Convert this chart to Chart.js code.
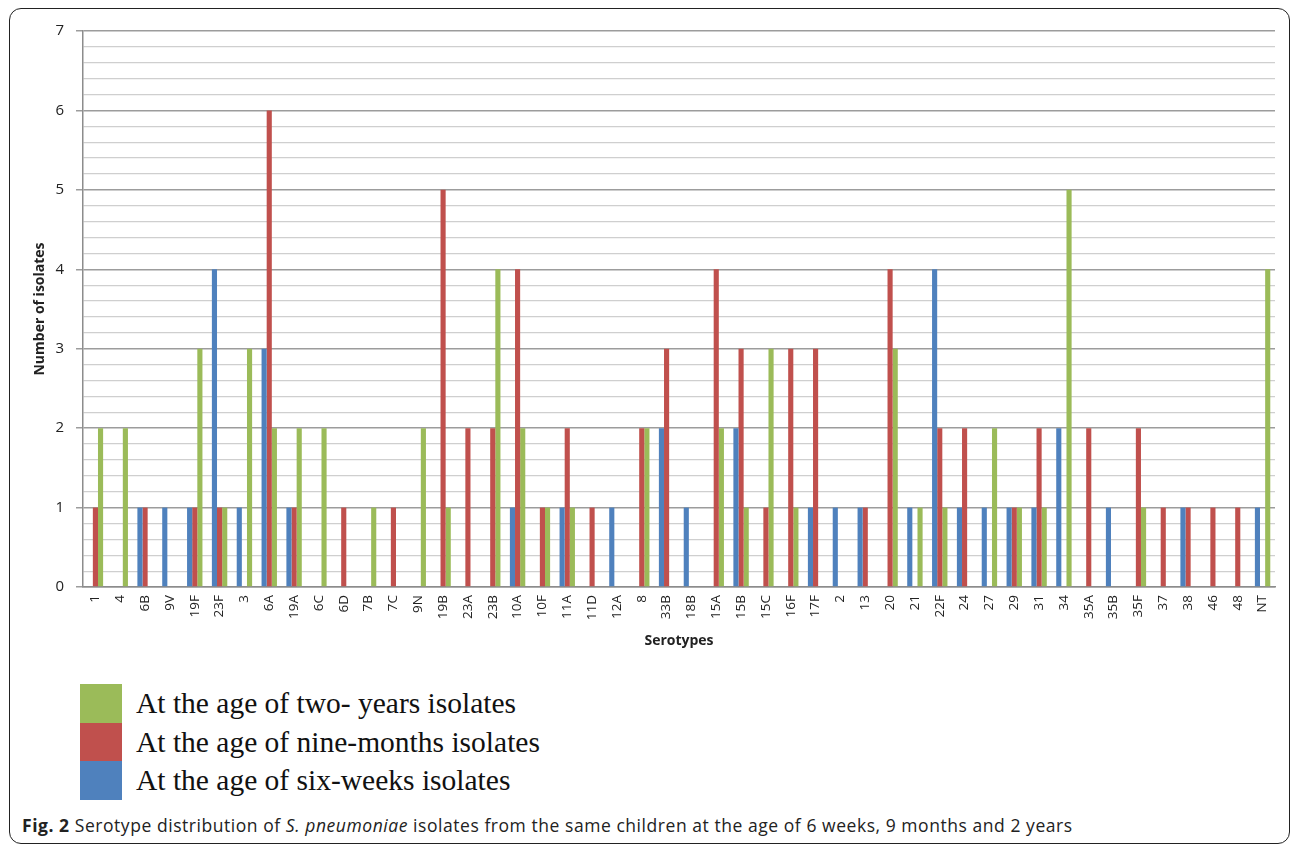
<!DOCTYPE html>
<html>
<head>
<meta charset="utf-8">
<script src="https://cdn.jsdelivr.net/npm/chart.js@4.4.0/dist/chart.umd.min.js"></script>
<style>
  html, body { margin:0; padding:0; background:#fff; width:1292px; height:845px; overflow:hidden; }
  #frame { position:absolute; left:9px; top:8px; width:1279px; height:834px; border:1.5px solid #222; border-radius:12px; }
  #wrap { position:absolute; left:0; top:0; width:1292px; height:660px; }
  #legend { position:absolute; left:80px; top:684px; font-family:"Liberation Serif","DejaVu Serif",serif; font-size:29.5px; color:#111; }
  .li { display:flex; align-items:center; height:38.7px; }
  .sw { width:42px; height:38.7px; margin-right:14px; }
  #caption { position:absolute; left:22px; top:813px; font-family:"Open Sans","Noto Sans",sans-serif; font-size:17.5px; letter-spacing:0.55px; color:#222; white-space:nowrap; }
</style>
</head>
<body>
<div id="frame"></div>
<div id="wrap"><canvas id="c" width="1292" height="660"></canvas></div>
<div id="legend"></div>
<div id="caption"><b>Fig. 2</b> Serotype distribution of <i>S. pneumoniae</i> isolates from the same children at the age of 6 weeks, 9 months and 2 years</div>
<script>
const categories = ["1","4","6B","9V","19F","23F","3","6A","19A","6C","6D","7B","7C","9N","19B","23A","23B","10A","10F","11A","11D","12A","8","33B","18B","15A","15B","15C","16F","17F","2","13","20","21","22F","24","27","29","31","34","35A","35B","35F","37","38","46","48","NT"];
const sixWeeks   = [0,0,1,1,1,4,1,3,1,0,0,0,0,0,0,0,0,1,0,1,0,1,0,2,1,0,2,0,0,1,1,1,0,1,4,1,1,1,1,2,0,1,0,0,1,0,0,1];
const nineMonths = [1,0,1,0,1,1,0,6,1,0,1,0,1,0,5,2,2,4,1,2,1,0,2,3,0,4,3,1,3,3,0,1,4,0,2,2,0,1,2,0,2,0,2,1,1,1,1,0];
const twoYears   = [2,2,0,0,3,1,3,2,2,2,0,1,0,2,1,0,4,2,1,1,0,0,2,0,0,2,1,3,1,0,0,0,3,1,1,0,2,1,1,5,0,0,1,0,0,0,0,4];
const seriesLabels = ["At the age of six-weeks isolates","At the age of nine-months isolates","At the age of two- years isolates"];
const seriesColors = ["#4f81bd","#c0504d","#9bbb59"];
const yTicks = [0,1,2,3,4,5,6,7];

const datasets = [sixWeeks, nineMonths, twoYears].map((d,i)=>({
  label: seriesLabels[i], data: d, backgroundColor: seriesColors[i], borderWidth:0,
  barPercentage: 1.0, categoryPercentage: 0.62
}));

const isInt = v => Math.abs(v - Math.round(v)) < 1e-6;
const sans = '"Open Sans","Noto Sans",sans-serif';

new Chart(document.getElementById('c'), {
  type: 'bar',
  data: { labels: categories, datasets },
  options: {
    responsive: false, animation: false,
    layout: { padding: { left: 22, right: 17, top: 31, bottom: 11 } },
    plugins: { legend: { display:false }, tooltip: { enabled:false } },
    scales: {
      x: {
        grid: { display:false, drawTicks:false },
        border: { color:'#8c8c8c', width:1.5 },
        ticks: { minRotation:90, maxRotation:90, autoSkip:false, color:'#222', padding:8,
                 font: { family:sans, size:13.5 } },
        title: { display:true, text:'Serotypes', color:'#222', padding:{top:0,bottom:0},
                 font: { family:sans, size:14, weight:'bold' } },
        afterFit: s => { s.height = 62; }
      },
      y: {
        min: 0, max: 7,
        afterBuildTicks: s => {
          const t = [];
          for (let i = 0; i <= 35; i++) t.push({ value: i / 5 });
          s.ticks = t;
        },
        grid: {
          color: c => isInt(c.tick.value) ? '#9c9c9c' : '#cfcfcf',
          lineWidth: c => isInt(c.tick.value) ? 1.5 : 1.2,
          tickColor: c => isInt(c.tick.value) ? '#9c9c9c' : 'rgba(0,0,0,0)',
          tickLength: 7
        },
        border: { color:'#8c8c8c', width:1.5 },
        ticks: {
          autoSkip:false, color:'#222', padding:12,
          font: { family:sans, size:15 },
          callback: v => (isInt(v) && yTicks.includes(Math.round(v))) ? String(Math.round(v)) : ''
        },
        title: { display:true, text:'Number of isolates', color:'#222', padding:{top:10,bottom:0},
                 font: { family:sans, size:14, weight:'bold' } },
        afterFit: s => { s.width = 61; }
      }
    }
  }
});

const leg = document.getElementById('legend');
[2,1,0].forEach(i => {
  const row = document.createElement('div'); row.className = 'li';
  const sw = document.createElement('div'); sw.className = 'sw'; sw.style.background = seriesColors[i];
  const tx = document.createElement('span'); tx.textContent = seriesLabels[i];
  row.appendChild(sw); row.appendChild(tx); leg.appendChild(row);
});
</script>
</body>
</html>
